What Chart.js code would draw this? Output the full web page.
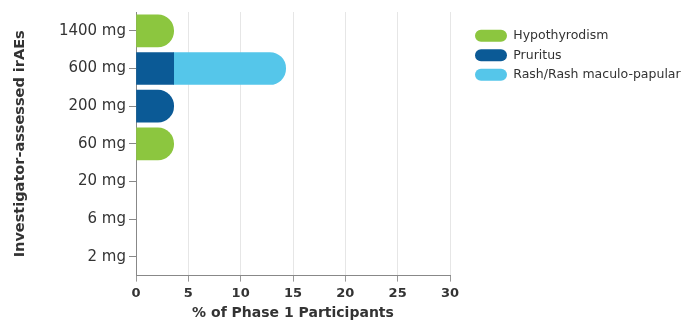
<!DOCTYPE html>
<html>
<head>
<meta charset="utf-8">
<script src="https://cdn.jsdelivr.net/npm/chart.js@4/dist/chart.umd.min.js"></script>
<style>
  html, body { margin: 0; padding: 0; background: #fff; }
  #wrap { width: 683px; height: 322px; }
</style>
</head>
<body>
<div id="wrap"><canvas id="chart"></canvas></div>
<script>
const doses = ["1400 mg", "600 mg", "200 mg", "60 mg", "20 mg", "6 mg", "2 mg"];
const hypothyroidism = [3.6, 0, 0, 3.6, 0, 0, 0];
const pruritus = [0, 3.6, 3.6, 0, 0, 0, 0];
const rash = [0, 10.7, 0, 0, 0, 0, 0];

const series = [hypothyroidism, pruritus, rash];

// round only the right end of the last non-zero piece in each stack
function endRadius(ctx) {
  const i = ctx.dataIndex;
  for (let d = ctx.datasetIndex + 1; d < series.length; d++) {
    if (series[d][i] > 0) return 0;
  }
  return { topLeft: 0, bottomLeft: 0, topRight: 20, bottomRight: 20 };
}

// zero means no bar at all
const noZero = arr => arr.map(v => v || null);

const txt = "#333";
const font = "'DejaVu Sans', sans-serif";

new Chart(document.getElementById("chart"), {
  type: "bar",
  data: {
    labels: doses,
    datasets: [
      { label: "Hypothyrodism", data: noZero(hypothyroidism), backgroundColor: "#8cc63f" },
      { label: "Pruritus", data: noZero(pruritus), backgroundColor: "#0b5a96" },
      { label: "Rash/Rash maculo-papular", data: noZero(rash), backgroundColor: "#55c6ea" }
    ]
  },
  options: {
    indexAxis: "y",
    responsive: true,
    maintainAspectRatio: false,
    animation: false,
    datasets: {
      bar: {
        barThickness: 32,
        borderSkipped: false,
        borderRadius: endRadius
      }
    },
    layout: { padding: { top: 4, right: 0, left: 10, bottom: 0 } },
    scales: {
      x: {
        stacked: true,
        min: 0,
        max: 30,
        ticks: { stepSize: 5, color: txt, font: { family: font, size: 13, weight: "bold" }, padding: 4 },
        grid: { color: "#e6e6e6", tickColor: "#999", tickLength: 6 },
        border: { color: "#888" },
        title: { display: true, text: "% of Phase 1 Participants", color: txt, font: { family: font, size: 14, weight: "bold" }, padding: { top: 0, bottom: 0 } }
      },
      y: {
        stacked: true,
        ticks: { color: txt, font: { family: font, size: 15 }, padding: 3 },
        grid: { offset: false, drawOnChartArea: false, tickColor: "#888", tickLength: 7 },
        border: { color: "#888" },
        title: { display: true, text: "Investigator-assessed irAEs", color: txt, font: { family: font, size: 14.5, weight: "bold" }, padding: { top: 2, bottom: 0 } },
        afterFit: s => { s.width = 126; }
      },
      // empty axis, only keeps a gap between the plot and the legend
      gap: {
        axis: "y",
        type: "category",
        position: "right",
        grid: { display: false },
        border: { display: false },
        ticks: { display: false },
        afterFit: s => { s.width = 18; }
      }
    },
    plugins: {
      tooltip: { enabled: false },
      legend: {
        position: "right",
        align: "start",
        maxWidth: 215,
        title: { display: true, text: "", font: { size: 8 }, padding: 4.5 },
        labels: {
          color: txt,
          font: { family: font, size: 12.5 },
          boxWidth: 32,
          boxHeight: 12,
          useBorderRadius: true,
          borderRadius: 6,
          padding: 7
        }
      }
    }
  }
});
</script>
</body>
</html>
